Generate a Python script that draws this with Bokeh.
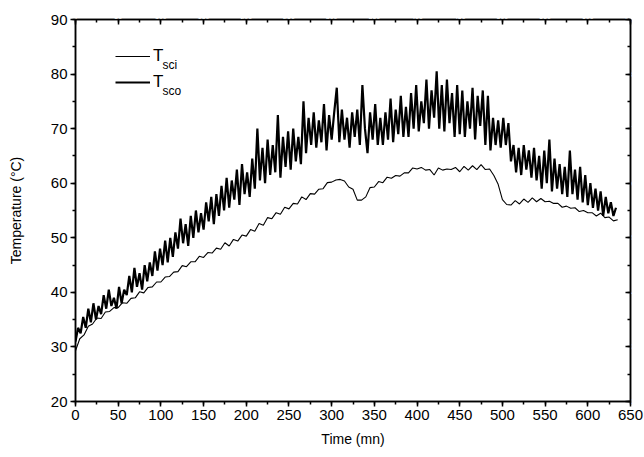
from bokeh.plotting import figure
from bokeh.models import (SingleIntervalTicker, Range1d, Legend, LinearAxis,
                          LegendItem, Label, ColumnDataSource)
from bokeh.embed import file_html
from bokeh.resources import INLINE

# Collector outlet temperature, sampled every 3 mn
t_sco = [
    31, 33.5, 32.5, 35.5, 33.5, 37, 34.5, 38, 35, 37.5,
    36, 39.5, 37, 40.5, 37.5, 39, 37, 41, 38, 40.5,
    39.5, 43, 40, 44.5, 41, 43.5, 40.5, 45, 42, 45.5,
    43, 47.5, 44, 48, 45, 49.5, 45.5, 50, 46.5, 51,
    48, 53.5, 49, 52.5, 48.5, 54, 50, 55, 51, 54.5,
    51.5, 56.5, 53, 57.5, 52.5, 58, 54, 59.5, 55, 61,
    55.5, 60.5, 57, 62.5, 56, 63.5, 58, 62, 57.5, 64.5,
    59, 70, 60.5, 66.5, 60, 68, 61.5, 67, 62, 72.5,
    61, 68.5, 63, 69.5, 62.5, 70, 64, 68.5, 63.5, 75,
    65.5, 72, 67, 73, 66.5, 71.5, 67.5, 74.5, 66, 72.5,
    68, 73, 77.5, 67.5, 73.5, 68, 72, 66.5, 73, 68.5,
    73.5, 67, 78, 70, 65.5, 73, 68, 74.5, 67, 72,
    67, 73, 68, 75.5, 67.5, 73.5, 69, 76, 68.5, 74,
    68.5, 76.5, 70, 78, 69.5, 75, 71, 79, 70, 77,
    72, 80.5, 70, 78, 69.5, 79, 71, 76.5, 68.5, 78,
    69, 77, 68.5, 75, 70, 77.5, 68, 76, 70.5, 77,
    67, 76, 66, 72, 67, 71.5, 66.5, 72, 67, 71,
    64, 67, 62, 66.5, 61.5, 67, 62.5, 66, 61, 66.5,
    60.5, 65, 59, 66, 60, 68, 58.5, 64.5, 59, 63.5,
    58, 63, 57.5, 66, 58, 62.5, 57, 63, 56.5, 61.5,
    56, 60, 55.5, 59, 55, 58.5, 54, 57.5, 54.5, 56.5,
    54, 55.5,
]
time_sco = list(range(0, 3 * len(t_sco), 3))

# Collector inlet temperature, sampled every 5 mn
t_sci = [
    29.3, 31.5, 32.2, 33.8, 34.2, 35.3, 35.2, 36.4, 36.5, 37.2,
    37.2, 38.1, 38, 38.9, 39, 40.1, 39.9, 40.9, 41, 41.9,
    41.9, 42.8, 42.9, 43.7, 43.8, 44.9, 44.7, 45.6, 45.6, 46.6,
    46.4, 47.3, 47.2, 48.1, 47.9, 49.1, 48.5, 49.7, 49.4, 50.5,
    50.3, 51.5, 51.2, 52.6, 52.3, 53.7, 53.5, 54.6, 54.3, 55.6,
    55.3, 56.3, 56.2, 57.5, 57, 58.1, 58, 58.9, 59, 60.1,
    60.2, 60.6, 60.7, 60.4, 59.3, 58.9, 56.9, 56.9, 57.5, 59.2,
    59.3, 60.3, 60.1, 61.1, 60.9, 61.4, 61.3, 61.9, 61.9, 62.8,
    62.6, 62.9, 62.4, 62.5, 61.5, 62.8, 62.4, 62.6, 62.5, 62.9,
    62.1, 63.1, 62.4, 63.2, 62.5, 63.4, 62.5, 62.6, 61.4, 59.8,
    57, 56.1, 56, 56.8, 56.2, 57.1, 56.5, 57.3, 56.6, 57.2,
    56.6, 56.7, 56.3, 56.3, 55.6, 55.8, 55.4, 55.5, 54.8, 55,
    54.6, 54.6, 54, 54.5, 53.7, 53.8, 53.1, 53.3,
]
time_sci = list(range(0, 5 * len(t_sci), 5))

# Axis extents and tick spacing
X_MIN, X_MAX, X_MAJOR = 0, 650, 50
Y_MIN, Y_MAX, Y_MAJOR = 20, 90, 10

FONT = "Liberation Sans"

p = figure(width=644, height=457, output_backend="svg", toolbar_location=None,
           x_range=Range1d(X_MIN, X_MAX), y_range=Range1d(Y_MIN, Y_MAX),
           min_border_left=75, min_border_right=14, min_border_top=19,
           min_border_bottom=56, x_axis_label="Time (mn)",
           y_axis_label="Temperature (°C)")
p.grid.visible = False
p.outline_line_color = "black"
p.outline_line_width = 1.5
p.background_fill_color = "white"
p.border_fill_color = "white"

src_sci = ColumnDataSource(dict(t=time_sci, v=t_sci))
src_sco = ColumnDataSource(dict(t=time_sco, v=t_sco))
r_sci = p.line("t", "v", source=src_sci, line_color="black", line_width=1.1)
r_sco = p.line("t", "v", source=src_sco, line_color="black", line_width=2.2)

for ax, step in ((p.xaxis[0], X_MAJOR), (p.yaxis[0], Y_MAJOR)):
    ax.ticker = SingleIntervalTicker(interval=step, num_minor_ticks=2)
    ax.axis_line_width = 1.5
    ax.major_tick_line_width = 1.5
    ax.minor_tick_line_width = 1.5
    ax.major_tick_out = 5
    ax.major_tick_in = 0
    ax.minor_tick_out = 3
    ax.minor_tick_in = 0
    ax.major_label_text_font = FONT
    ax.major_label_text_font_size = "15px"
    ax.major_label_text_color = "black"
    ax.axis_label_text_font = FONT
    ax.axis_label_text_font_size = "14px"
    ax.axis_label_text_font_style = "normal"
    ax.axis_label_text_color = "black"

p.xaxis[0].major_label_standoff = 3
p.xaxis[0].axis_label_standoff = 8
p.yaxis[0].major_label_standoff = 3
p.yaxis[0].axis_label_standoff = 24

# Mirror axes closing the box on top and right, ticks pointing inward;
# their tick labels blend into the white border
for loc, step in (("above", X_MAJOR), ("right", Y_MAJOR)):
    ax = LinearAxis(ticker=SingleIntervalTicker(interval=step, num_minor_ticks=2),
                    axis_line_color="black", axis_line_width=1.5,
                    major_tick_in=5, major_tick_out=0,
                    minor_tick_in=3, minor_tick_out=0,
                    major_tick_line_width=1.5, minor_tick_line_width=1.5,
                    major_label_text_font=FONT,
                    major_label_text_font_size="7px",
                    major_label_text_color="white",
                    major_label_standoff=1)
    p.add_layout(ax, loc)

legend = Legend(items=[LegendItem(label="T", renderers=[r_sci]),
                       LegendItem(label="T", renderers=[r_sco])],
                location=(34, 303), margin=0, padding=6, spacing=6,
                glyph_width=35, glyph_height=20, label_height=20,
                label_standoff=3, border_line_alpha=0,
                background_fill_alpha=0, label_text_color="black",
                label_text_font=FONT, label_text_font_size="17px")
p.add_layout(legend, "center")

for txt, yv in (("sci", 81.6), ("sco", 76.9)):
    p.add_layout(Label(x=102, y=yv, text=txt, text_font=FONT,
                       text_font_size="12px", text_baseline="alphabetic",
                       text_color="black"))

open("out.html", "w").write(file_html(p, INLINE))
